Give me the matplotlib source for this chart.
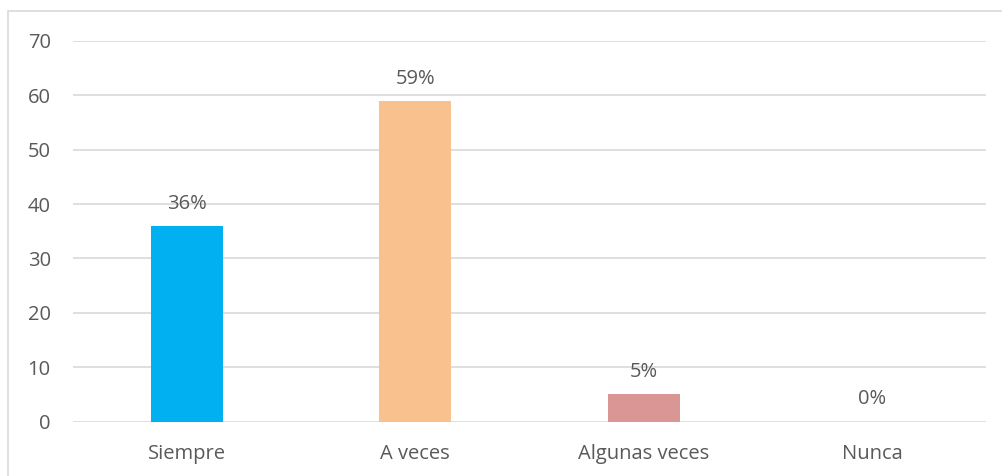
import matplotlib.pyplot as plt
from matplotlib.patches import Rectangle

# data
categories = ["Siempre", "A veces", "Algunas veces", "Nunca"]
values = [36, 59, 5, 0]
labels = ["36%", "59%", "5%", "0%"]
colors = ["#00B0F0", "#F8C18E", "#D99694", "#A6A6A6"]
yticks = [0, 10, 20, 30, 40, 50, 60, 70]

plt.rcParams['font.family'] = ['Open Sans', 'DejaVu Sans']
text_color = "#595959"
fsize = 14.5

fig = plt.figure(figsize=(10.02, 4.76), dpi=100)
W, H = 1002, 476
# plot area in pixels: left 73, right 986, top 41 (y=70), bottom 421.5 (y=0)
ax = fig.add_axes([73 / W, 1 - 421.5 / H, (986 - 73) / W, (421.5 - 41) / H])

x = range(len(categories))
bars = ax.bar(x, values, width=0.316, color=colors, zorder=3)
for b, lab in zip(bars, labels):
    ax.annotate(lab, (b.get_x() + b.get_width() / 2, b.get_height()),
                xytext=(0, 12), textcoords="offset pixels",
                ha="center", va="bottom", fontsize=fsize, color=text_color)

ax.set_xlim(-0.5, len(categories) - 0.5)
ax.set_ylim(0, 70)
ax.set_yticks(yticks)
ax.set_xticks(list(x))
ax.set_xticklabels(categories)
ax.grid(axis="y", color="#D9D9D9", linewidth=1.2, zorder=0)
for s in ax.spines.values():
    s.set_visible(False)
ax.tick_params(axis="both", length=0, labelsize=fsize, colors=text_color)
ax.tick_params(axis="y", pad=16)
ax.tick_params(axis="x", pad=16)

# outer chart border
fig.patches.append(Rectangle((8 / W, -0.1), 1.2, 1 - 11 / H + 0.1,
                             transform=fig.transFigure, fill=False,
                             edgecolor="#D9D9D9", linewidth=1.2))

fig.savefig("out.png", dpi=100)
